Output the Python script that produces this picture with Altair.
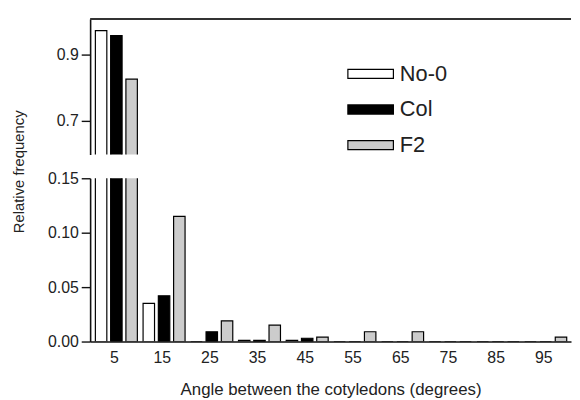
import altair as alt
import pandas as pd

# ---- data ----
angles = [5, 15, 25, 35, 45, 55, 65, 75, 85, 95]
no0 = [0.970, 0.035, 0.0, 0.001, 0.001, 0.0, 0.0, 0.0, 0.0, 0.0]
col = [0.955, 0.042, 0.009, 0.001, 0.003, 0.0, 0.0, 0.0, 0.0, 0.0]
f2 = [0.825, 0.115, 0.019, 0.015, 0.004, 0.009, 0.009, 0.0, 0.0, 0.004]
series = ["No-0", "Col", "F2"]
fills = ["#ffffff", "#000000", "#cccccc"]

rows = []
for i, (name, vals) in enumerate(zip(series, [no0, col, f2])):
    for a, v in zip(angles, vals):
        rows.append({"angle": a, "series": name, "idx": i, "value": v})
df = pd.DataFrame(rows)

W = 486
FONT = "Liberation Sans"
x_scale = alt.Scale(domain=[0, 100.8], nice=False, zero=False)
fill_enc = alt.Fill(
    "series:N",
    scale=alt.Scale(domain=series, range=fills),
    sort=series,
    legend=alt.Legend(
        orient="none", legendX=271, legendY=43, title=None,
        symbolType="M-2,-0.4H2V0.4H-2Z", symbolSize=529,
        symbolStrokeColor="black", symbolStrokeWidth=1.2,
        labelFontSize=22, labelFont=FONT, labelColor="#222",
        rowPadding=12, labelOffset=17,
    ),
)

def bars(y_enc, x_axis):
    return alt.Chart(df).transform_calculate(
        x0="datum.angle + 0.5 + (datum.idx - 1) * 3.2 - 1.2",
        x1="datum.angle + 0.5 + (datum.idx - 1) * 3.2 + 1.2",
    ).mark_bar(clip=True, stroke="black", strokeWidth=1.2).encode(
        x=alt.X("x0:Q", scale=x_scale, axis=x_axis),
        x2="x1:Q",
        y=y_enc,
        y2=alt.datum(0),
        fill=fill_enc,
    )

upper_bars = bars(
    alt.Y("value:Q", scale=alt.Scale(domain=[0.6, 1.005], nice=False, zero=False),
          axis=alt.Axis(values=[0.7, 0.9], format=".1f", title=None)),
    None,
)
frame = alt.Chart(pd.DataFrame({"k": [0]})).mark_rule(color="#333", strokeWidth=2).encode(
    x=alt.value(0), x2=alt.value(W), y=alt.value(0)
)
upper = alt.layer(upper_bars, frame).properties(width=W, height=137)

lower = bars(
    alt.Y("value:Q", scale=alt.Scale(domain=[0, 0.15], nice=False),
          axis=alt.Axis(values=[0, 0.05, 0.10, 0.15], format=".2f",
                        title="Relative frequency", titleX=-67, titleY=-7,
                        titleBaseline="alphabetic", titleFontSize=15)),
    alt.Axis(values=angles, ticks=False, labelPadding=8, grid=False,
             title="Angle between the cotyledons (degrees)", titlePadding=17,
             titleFontSize=17),
).properties(width=W, height=165)

chart = alt.vconcat(upper, lower, spacing=24, bounds="flush").resolve_scale(
    y="independent", x="shared", fill="shared"
).properties(
    padding={"left": 4, "top": 8, "right": 0, "bottom": 0}
).configure_view(stroke=None).configure_axis(
    labelFont=FONT, labelFontSize=16, labelColor="#222",
    titleFont=FONT, titleColor="#222", titleFontWeight="normal",
    domainColor="#111", domainWidth=1.6, tickColor="#111", tickWidth=1.4,
    tickSize=9, labelPadding=3, grid=False,
)

chart.save("out.html", embed_options={"renderer": "svg", "actions": False})
